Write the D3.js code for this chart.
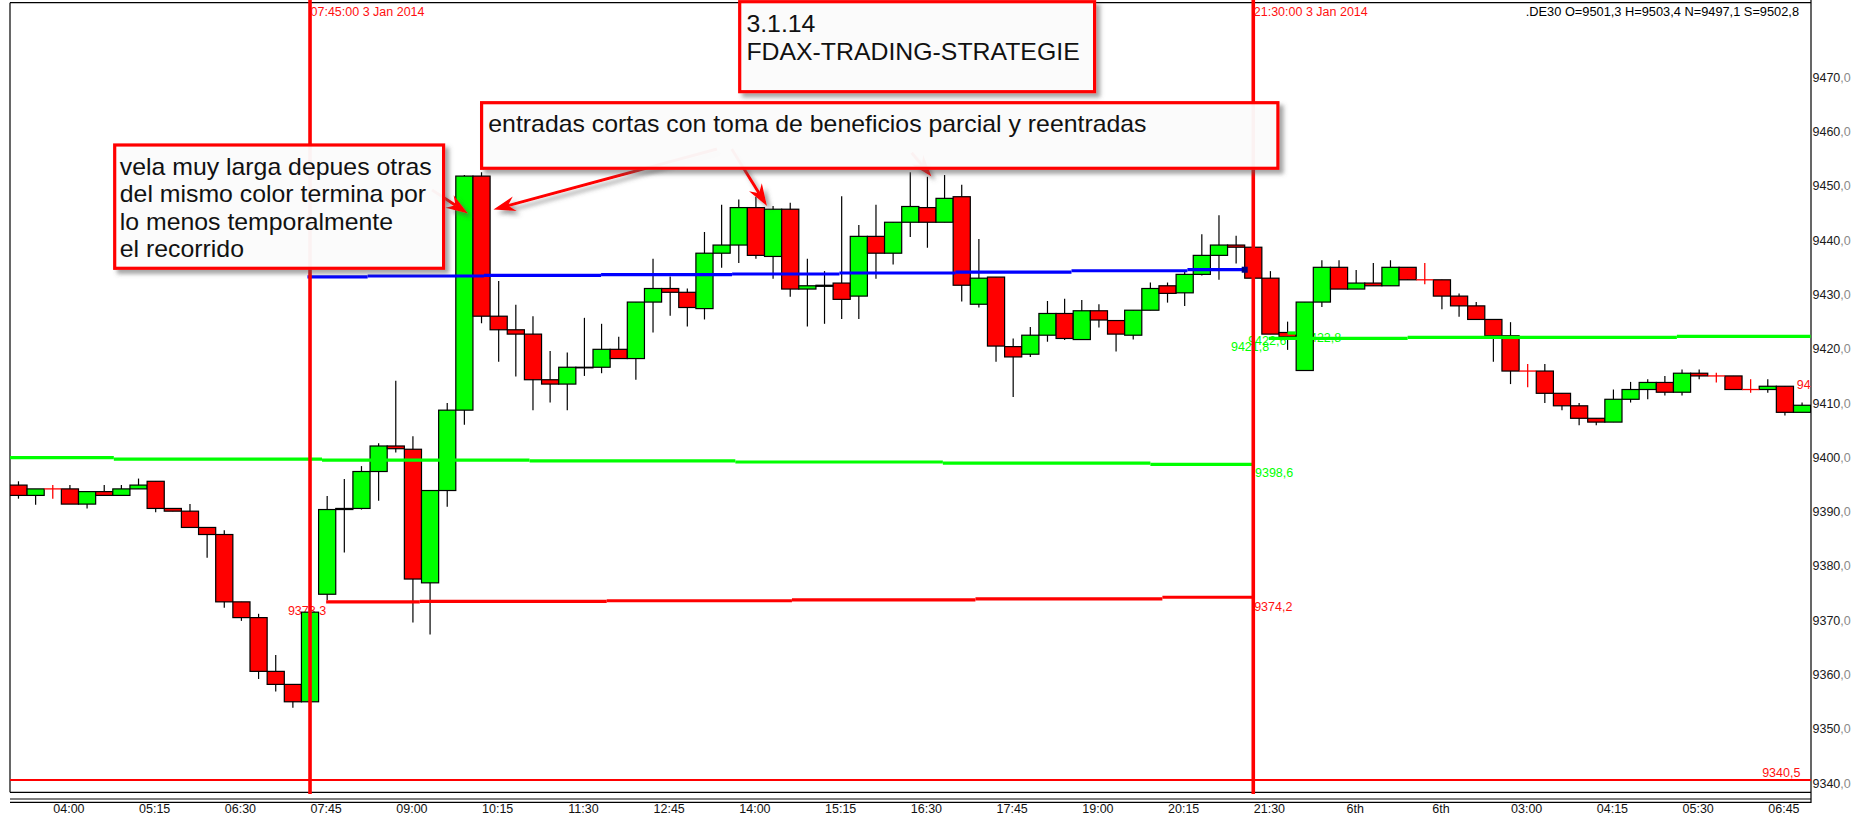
<!DOCTYPE html>
<html><head><meta charset="utf-8">
<script src="https://cdn.jsdelivr.net/npm/d3@7"></script>
<style>html,body{margin:0;padding:0;background:#fff;overflow:hidden}svg{display:block}</style>
</head><body>
<svg id="c" width="1857" height="820"></svg>
<script>
// ---------- DATA ----------
const opens  = [9394.8,9392.9,9394.1,9394.1,9391.3,9393.6,9392.9,9394.1,9395.5,9390.5,
                9390.0,9387.0,9385.7,9373.3,9370.4,9360.5,9358.1,9354.9,9374.7,9390.3,
                9390.5,9397.3,9402.0,9401.4,9376.8,9393.8,9408.6,9451.7,9425.9,9423.4,
                9422.6,9414.2,9413.4,9416.4,9416.5,9419.8,9418.1,9428.5,9431.0,9430.3,
                9427.3,9437.5,9439.0,9445.9,9436.9,9445.6,9430.9,9431.4,9432.0,9429.6,
                9440.6,9437.5,9443.2,9445.9,9443.2,9447.9,9428.1,9433.1,9420.3,9418.9,
                9422.4,9426.4,9421.6,9426.9,9425.1,9422.4,9427.0,9431.5,9430.2,9433.6,
                9437.1,9439.0,9438.6,9432.9,9422.9,9415.9,9428.5,9434.9,9430.9,9432.0,
                9431.5,9434.9,9432.6,9432.6,9429.6,9427.8,9425.3,9422.3,9415.8,9415.8,
                9411.7,9409.4,9407.1,9406.4,9410.6,9412.4,9413.7,9411.9,9415.4,9414.9,
                9414.9,9412.4,9412.4,9413.0,9408.2];
const highs  = [9395.5,9394.1,9394.8,9394.8,9393.6,9394.8,9394.8,9396.0,9395.5,9390.5,
                9391.3,9387.0,9386.5,9373.3,9371.1,9363.5,9358.1,9371.4,9392.8,9395.9,
                9398.3,9402.5,9414.0,9403.8,9393.8,9409.9,9451.9,9452.4,9432.4,9428.0,
                9425.9,9419.5,9419.2,9425.6,9424.5,9422.1,9428.5,9436.5,9433.2,9431.0,
                9441.4,9446.4,9447.4,9447.9,9446.2,9446.8,9436.5,9434.2,9448.0,9442.7,
                9446.4,9443.2,9452.4,9451.6,9451.9,9450.1,9440.1,9433.1,9421.8,9423.9,
                9428.7,9429.1,9428.9,9428.1,9425.1,9427.0,9432.1,9432.1,9434.2,9441.0,
                9444.5,9440.7,9438.6,9434.2,9424.9,9428.5,9436.2,9436.2,9434.4,9435.7,
                9436.2,9434.9,9435.7,9432.6,9430.1,9428.5,9425.3,9424.8,9417.1,9417.1,
                9411.7,9409.9,9407.1,9412.4,9413.8,9414.3,9414.9,9416.1,9416.1,9415.5,
                9414.9,9414.3,9414.3,9413.0,9410.0];
const lows   = [9392.3,9391.2,9392.3,9391.3,9390.5,9392.9,9392.9,9394.1,9389.8,9390.0,
                9387.0,9381.4,9372.2,9369.8,9359.1,9356.8,9353.8,9354.9,9373.6,9382.4,
                9390.3,9391.9,9400.8,9369.5,9367.3,9390.8,9405.9,9424.6,9417.5,9414.8,
                9408.6,9410.0,9408.6,9414.9,9415.4,9418.1,9414.2,9422.9,9426.0,9424.0,
                9425.3,9434.8,9435.7,9436.5,9432.8,9429.5,9424.0,9424.5,9425.4,9425.4,
                9432.8,9435.4,9440.5,9438.5,9443.2,9428.6,9427.5,9417.5,9411.0,9418.4,
                9421.2,9421.5,9421.6,9423.8,9419.4,9421.6,9427.0,9428.4,9427.8,9433.4,
                9432.6,9435.6,9432.9,9422.6,9419.7,9415.9,9427.6,9430.9,9430.9,9431.5,
                9431.5,9432.6,9431.8,9427.2,9425.8,9425.3,9417.5,9413.4,9412.8,9409.9,
                9408.6,9405.8,9405.8,9406.4,9410.0,9410.6,9411.3,9411.3,9414.3,9413.7,
                9412.4,9411.8,9411.8,9407.6,9408.2];
const closes = [9392.9,9394.1,9394.1,9391.3,9393.6,9392.9,9394.1,9394.8,9390.5,9390.0,
                9387.0,9385.7,9373.3,9370.4,9360.5,9358.1,9354.9,9371.4,9390.3,9390.5,
                9397.3,9402.0,9401.5,9377.5,9393.8,9408.6,9451.7,9425.9,9423.4,9422.6,
                9414.2,9413.4,9416.5,9416.5,9419.8,9418.1,9428.5,9431.0,9430.3,9427.5,
                9437.5,9439.0,9445.9,9437.1,9445.6,9430.9,9431.5,9431.6,9429.0,9440.6,
                9437.5,9443.2,9446.1,9443.2,9447.6,9431.6,9432.9,9420.4,9418.4,9422.4,
                9426.4,9421.8,9426.9,9425.2,9422.6,9427.0,9431.0,9430.1,9433.6,9437.1,
                9439.0,9438.6,9432.9,9422.6,9422.1,9428.5,9434.9,9430.9,9432.0,9431.5,
                9434.9,9432.6,9432.6,9429.6,9427.8,9425.3,9422.3,9415.8,9415.8,9411.7,
                9409.4,9407.1,9406.4,9410.6,9412.4,9413.7,9411.9,9415.4,9414.9,9414.9,
                9412.4,9412.4,9413.0,9408.2,9409.5];

const xTickLabels = ["04:00","05:15","06:30","07:45","09:00","10:15","11:30","12:45","14:00","15:15",
                     "16:30","17:45","19:00","20:15","21:30","6th","6th","03:00","04:15","05:30","06:45"];
const xTickIndex  = [3,8,13,18,23,28,33,38,43,48,53,58,63,68,73,78,83,88,93,98,103];
const yTicks = [9340,9350,9360,9370,9380,9390,9400,9410,9420,9430,9440,9450,9460,9470];

// step levels: [fromIndex, toIndex, value]
const greenLowSteps = [[-0.5,5.56,9399.85],[5.56,17.7,9399.6],[17.7,29.8,9399.4],[29.8,41.8,9399.25],
                       [41.8,53.9,9399.05],[53.9,66.0,9398.85],[66.0,72,9398.6]];
const redLowSteps   = [[17.94,23.4,9373.3],[23.4,34.3,9373.4],[34.3,45.1,9373.5],[45.1,55.8,9373.65],
                       [55.8,66.7,9373.85],[66.7,72,9374.15]];
const blueSteps     = [[16.85,20.36,9433.15],[20.36,27.14,9433.3],[27.14,33.97,9433.43],[33.97,41.61,9433.54],
                       [41.61,47.87,9433.67],[47.87,54.63,9433.85],[54.63,61.4,9434.03],[61.4,68.16,9434.27],
                       [68.16,71.5,9434.46]];
const greenHighSteps= [[72.9,81.0,9421.8],[81.0,96.7,9422.0],[96.7,104.5,9422.18],[74.0,74.5,9422.8]];
const bottomLevel = 9340.5;

const vLines = [{idx:17, label:"07:45:00 3 Jan 2014"},{idx:72, label:"21:30:00 3 Jan 2014"}];
const levelLabels = [
  {text:"9373,3", idx:17.94, v:9373.3, dy:13, anchor:"end", color:"#ff1010"},
  {text:"9374,2", idx:72.05, v:9374.2, dy:14, anchor:"start", color:"#ff1010"},
  {text:"9398,6", idx:72.1, v:9398.6, dy:13, anchor:"start", color:"#00ff00"},
  {text:"9421,8", idx:70.7, v:9421.8, dy:13, anchor:"start", color:"#00ff00"},
  {text:"9422,6", idx:71.7, v:9422.6, dy:11, anchor:"start", color:"#00ff00"},
  {text:"9422,8", idx:74.9, v:9422.8, dy:9, anchor:"start", color:"#00ff00"},
  {text:"9340,5", idx:103.9, v:9340.5, dy:-3, anchor:"end", color:"#ff1010"},
  {text:"94", idx:104.5, v:9412.5, dy:0, anchor:"end", color:"#ff1010"}
];
const headerText = ".DE30 O=9501,3 H=9503,4 N=9497,1 S=9502,8";

const boxes = [
  {x0:739.7, y0:1.7, x1:1094.6, y1:91.7, tx:746.4, lines:["3.1.14","FDAX-TRADING-STRATEGIE"], base:[31.5,60]},
  {x0:481.6, y0:102.7, x1:1277.9, y1:168.3, tx:488.3, lines:["entradas cortas con toma de beneficios parcial y reentradas"], base:[131.5]},
  {x0:114.7, y0:145, x1:443.6, y1:268.3, tx:119.8, lines:["vela muy larga depues otras","del mismo color termina por","lo menos temporalmente","el recorrido"], base:[175,202.3,229.6,257]}
];
const arrows = [
  {from:[432,190], to:[468,213.5]},
  {from:[717,149], to:[493.5,209.5]},
  {from:[731.7,149], to:[767,206]},
  {from:[911.6,152.7], to:[931.5,176.5]}
];

// ---------- SCALES ----------
const n = opens.length;
const svg = d3.select('#c');
const PL = 10, PR = 1811, PT = 2.7, PB = 792.3;
const x = d3.scaleBand().domain(d3.range(n)).range([9.9, 9.9 + n*17.15]).padding(0);
const bw = x.bandwidth();
const xc = d3.scaleLinear().domain([0, n-1]).range([x(0)+bw/2, x(n-1)+bw/2]);
const y = d3.scaleLinear().domain([9340, 9470]).range([782.7, 76.7]);

const SMALL = '"Liberation Sans",Arial,sans-serif';
const SMALL_SIZE = '12.5px';
const SANS = '"Liberation Sans",Arial,sans-serif';

const defs = svg.append('defs');
defs.append('clipPath').attr('id','plotclip').append('rect')
  .attr('x',PL).attr('y',PT).attr('width',PR-PL).attr('height',PB-PT);
const f = defs.append('filter').attr('id','shadow').attr('x','-10%').attr('y','-10%').attr('width','130%').attr('height','140%');
f.append('feDropShadow').attr('dx',4).attr('dy',4).attr('stdDeviation',2.2)
  .attr('flood-color','#555').attr('flood-opacity',0.55);

// ---------- FRAME ----------
const frame = svg.append('g').attr('stroke','#000').attr('stroke-width',1.2).attr('fill','none');
frame.append('line').attr('x1',PL).attr('x2',PR).attr('y1',PT).attr('y2',PT);
frame.append('line').attr('x1',PL).attr('x2',PL).attr('y1',PT).attr('y2',PB);
frame.append('line').attr('x1',PL).attr('x2',PR).attr('y1',PB).attr('y2',PB);
frame.append('line').attr('x1',PR).attr('x2',PR).attr('y1',0).attr('y2',803);
frame.append('line').attr('x1',PL).attr('x2',PR).attr('y1',799).attr('y2',799);
frame.append('line').attr('x1',PL).attr('x2',PR).attr('y1',802.3).attr('y2',802.3);

const plot = svg.append('g').attr('clip-path','url(#plotclip)');

// level labels (under candles)
const lbl = plot.append('g').attr('font-family',SMALL).attr('font-size',SMALL_SIZE);
lbl.selectAll('text').data(levelLabels).join('text')
  .attr('x', d => xc(d.idx)).attr('y', d => y(d.v) + d.dy)
  .attr('text-anchor', d => d.anchor).attr('fill', d => d.color).text(d => d.text);

// ---------- CANDLES ----------
const data = d3.range(n).map(i => ({i, o:opens[i], h:highs[i], l:lows[i], c:closes[i]}));
const cg = plot.append('g');
const normal = data.filter(d => d.o !== d.c);
const doji = data.filter(d => d.o === d.c);
cg.selectAll('line.wick').data(normal).join('line').attr('class','wick')
  .attr('x1', d => x(d.i)+bw/2).attr('x2', d => x(d.i)+bw/2)
  .attr('y1', d => y(d.h)).attr('y2', d => y(d.l))
  .attr('stroke','#000').attr('stroke-width',1.2);
cg.selectAll('rect.body').data(normal).join('rect').attr('class','body')
  .attr('x', d => x(d.i)).attr('width', bw)
  .attr('y', d => y(Math.max(d.o,d.c)))
  .attr('height', d => Math.max(0.6, Math.abs(y(d.o)-y(d.c))))
  .attr('fill', d => d.c > d.o ? '#00ff00' : '#ff0000')
  .attr('stroke','#000').attr('stroke-width',1.2);
const dg = cg.selectAll('g.doji').data(doji).join('g').attr('class','doji').attr('stroke','#ff0000').attr('stroke-width',1.3);
dg.append('line').attr('x1', d => x(d.i)).attr('x2', d => x(d.i)+bw)
  .attr('y1', d => y(d.o)).attr('y2', d => y(d.o));
dg.append('line').attr('x1', d => x(d.i)+bw/2).attr('x2', d => x(d.i)+bw/2)
  .attr('y1', d => y(d.h)).attr('y2', d => y(d.l));

// ---------- LEVEL LINES ----------
function steps(arr, color, w) {
  plot.append('g').selectAll('line').data(arr).join('line')
    .attr('x1', d => xc(d[0])).attr('x2', d => xc(d[1]))
    .attr('y1', d => y(d[2])).attr('y2', d => y(d[2]))
    .attr('stroke', color).attr('stroke-width', w);
}
steps(greenLowSteps, '#00ff00', 3.2);
steps(redLowSteps, '#ff0000', 3.2);
steps(blueSteps, '#0000ff', 3.2);
steps(greenHighSteps, '#00ff00', 3.2);
plot.append('line').attr('x1',PL).attr('x2',PR).attr('y1',y(bottomLevel)).attr('y2',y(bottomLevel))
  .attr('stroke','#ff0000').attr('stroke-width',2.2);
const lastBlue = blueSteps[blueSteps.length-1];
plot.append('rect').attr('x', xc(lastBlue[1])-3).attr('y', y(lastBlue[2])-3).attr('width',6).attr('height',6).attr('fill','#000080');

// ---------- VERTICAL LINES ----------
svg.append('g').selectAll('line').data(vLines).join('line')
  .attr('x1', d => x(d.idx)+bw/2).attr('x2', d => x(d.idx)+bw/2)
  .attr('y1', 0).attr('y2', 794).attr('stroke','#ff0000').attr('stroke-width',3.6);
svg.append('g').attr('font-family',SMALL).attr('font-size',SMALL_SIZE).attr('fill','#ff1010')
  .selectAll('text').data(vLines).join('text')
  .attr('x', d => x(d.idx)+bw/2+0.5).attr('y', 15.5).text(d => d.label);

// header
svg.append('text').attr('x', 1799).attr('y', 15.5).attr('text-anchor','end')
  .attr('font-family',SMALL).attr('font-size','12.8px').attr('fill','#000').text(headerText);

// ---------- AXES ----------
const yAxis = d3.axisRight(y).tickValues(yTicks).tickSize(0).tickPadding(1.5).tickFormat(d => d);
const yg = svg.append('g').attr('transform',`translate(${PR},0)`).call(yAxis);
yg.select('.domain').remove();
yg.selectAll('text').attr('font-family',SMALL).attr('font-size',SMALL_SIZE).attr('fill','#1a1a1a').attr('dy','0.36em')
  .each(function(d){
    const t = d3.select(this); t.text(null);
    t.append('tspan').text(String(d));
    t.append('tspan').attr('fill','#8a8a8a').text(',0');
  });

const xAxis = d3.axisBottom(x).tickValues(xTickIndex).tickSize(0).tickPadding(0)
  .tickFormat(d => xTickLabels[xTickIndex.indexOf(d)]);
const xg = svg.append('g').attr('transform','translate(-1,804.5)').call(xAxis);
xg.select('.domain').remove();
xg.selectAll('text').attr('font-family',SMALL).attr('font-size',SMALL_SIZE).attr('fill','#111').attr('dy','0.71em');

// ---------- ANNOTATIONS ----------
const ann = svg.append('g');
const ag = ann.append('g').attr('filter','url(#shadow)');
arrows.forEach(a => {
  const [x1,y1] = a.from, [x2,y2] = a.to;
  const ang = Math.atan2(y2-y1, x2-x1);
  const L = 22, Wd = 7.5, notch = 15;
  const bx = x2 - L*Math.cos(ang), by = y2 - L*Math.sin(ang);
  const nx = x2 - notch*Math.cos(ang), ny = y2 - notch*Math.sin(ang);
  const px = -Math.sin(ang), py = Math.cos(ang);
  ag.append('line').attr('x1',x1).attr('y1',y1).attr('x2',nx).attr('y2',ny)
    .attr('stroke','#ff0000').attr('stroke-width',3);
  ag.append('path').attr('d',`M${x2},${y2}L${bx+px*Wd},${by+py*Wd}L${nx},${ny}L${bx-px*Wd},${by-py*Wd}Z`)
    .attr('fill','#ff0000');
});
boxes.forEach(b => {
  ann.append('rect').attr('x',b.x0).attr('y',b.y0).attr('width',b.x1-b.x0).attr('height',b.y1-b.y0)
    .attr('fill','rgba(255,255,255,0.93)').attr('stroke','#ff0000').attr('stroke-width',3.2)
    .attr('filter','url(#shadow)');
  b.lines.forEach((ln, k) => {
    ann.append('g').attr('transform',`translate(${b.tx},${b.base[k]}) scale(1.08,1)`)
      .append('text').attr('font-family',SANS).attr('font-size','23px').attr('fill','#111').text(ln);
  });
});
</script>
</body></html>
